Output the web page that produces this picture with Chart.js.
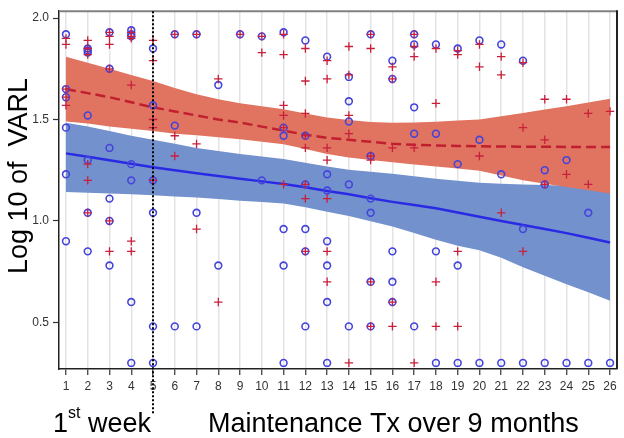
<!DOCTYPE html>
<html>

<head>
    <title>Log 10 of VARL by week</title>
    <script src="https://cdn.jsdelivr.net/npm/chart.js"></script>
    <style>
        body { margin: 0; background: #fff; }
        #wrap { position: relative; width: 624px; height: 438px; }
    </style>
</head>

<body>
    <div id="wrap"><canvas id="varlChart"></canvas></div>

    <script>
        const weeks = [1, 2, 3, 4, 5, 6, 7, 8, 9, 10, 11, 12, 13, 14, 15, 16, 17, 18, 19, 20, 21, 22, 23, 24, 25, 26];
        const yTicks = [0.5, 1.0, 1.5, 2.0];

        // observed values per week (circles = blue group, crosses = red group)
        const blueObs = [
            [1.92, 1.65, 1.61, 1.46, 1.23, 0.90],
            [1.85, 1.84, 1.83, 1.52, 1.30, 1.04, 0.85],
            [1.93, 1.75, 1.36, 1.11, 1.00, 0.78],
            [1.94, 1.92, 1.91, 1.28, 1.20, 0.60, 0.30],
            [1.85, 1.57, 1.20, 1.04, 0.48, 0.30],
            [1.92, 1.47, 0.48],
            [1.92, 1.04, 0.48],
            [1.67, 0.78],
            [1.92],
            [1.91, 1.20],
            [1.93, 1.46, 1.42, 0.96, 0.78, 0.30],
            [1.89, 1.42, 1.18, 0.96, 0.85, 0.48],
            [1.81, 1.23, 1.15, 0.90, 0.78, 0.60, 0.30],
            [1.71, 1.59, 1.49, 1.18, 0.48],
            [1.92, 1.32, 1.11, 1.04, 0.70, 0.48],
            [1.79, 1.70, 0.85, 0.70, 0.60],
            [1.92, 1.87, 1.56, 1.43, 0.48],
            [1.87, 1.43, 0.85, 0.30],
            [1.85, 1.28, 0.78, 0.30],
            [1.89, 1.40, 0.30],
            [1.87, 1.23, 0.30],
            [1.79, 0.96, 0.30],
            [1.25, 1.18, 0.30],
            [1.30, 0.30],
            [1.04, 0.30],
            [0.30]
        ];
        const redObs = [
            [1.90, 1.87, 1.65, 1.61, 1.57],
            [1.89, 1.85, 1.82, 1.28, 1.20, 1.04],
            [1.93, 1.91, 1.87, 1.75, 1.00, 0.85],
            [1.93, 1.91, 1.90, 1.67, 0.90, 0.85],
            [1.89, 1.79, 1.50, 1.46, 1.20],
            [1.92, 1.42, 1.32],
            [1.92, 1.38, 0.96],
            [1.70, 0.60],
            [1.92],
            [1.91, 1.83],
            [1.92, 1.82, 1.57, 1.52, 1.46, 1.18],
            [1.85, 1.69, 1.53, 1.42, 1.36, 1.18, 1.11, 0.85],
            [1.79, 1.70, 1.36, 1.30, 1.11, 0.85, 0.70],
            [1.86, 1.72, 1.52, 1.43, 0.30],
            [1.92, 1.85, 1.32, 1.30, 0.70, 0.48],
            [1.76, 1.70, 1.36, 0.60, 0.48],
            [1.92, 1.86, 1.81, 1.36, 0.30],
            [1.85, 1.58, 0.70, 0.48],
            [1.84, 1.82, 0.85, 0.48],
            [1.87, 1.76, 1.32],
            [1.81, 1.72, 1.04],
            [1.78, 1.46, 0.85],
            [1.60, 1.40, 1.18],
            [1.60, 1.23],
            [1.53, 1.18],
            [1.54]
        ];

        // fitted curves and confidence bands
        const redFit = [1.65, 1.63, 1.61, 1.585, 1.56, 1.54, 1.52, 1.50, 1.485, 1.465, 1.445, 1.425, 1.41,
            1.40, 1.39, 1.38, 1.375, 1.372, 1.37, 1.368, 1.367, 1.366, 1.366, 1.365, 1.365, 1.365];
        const redUpper = [1.81, 1.78, 1.75, 1.72, 1.69, 1.655, 1.625, 1.60, 1.58, 1.565, 1.55, 1.53, 1.51,
            1.497, 1.488, 1.484, 1.485, 1.489, 1.495, 1.50, 1.516, 1.532, 1.549, 1.565, 1.584, 1.602];
        const redLower = [1.49, 1.48, 1.465, 1.455, 1.443, 1.43, 1.422, 1.413, 1.403, 1.39, 1.378, 1.355, 1.33,
            1.313, 1.30, 1.289, 1.278, 1.268, 1.258, 1.248, 1.224, 1.20, 1.183, 1.167, 1.151, 1.135];
        const blueFit = [1.333, 1.316, 1.299, 1.282, 1.265, 1.25, 1.235, 1.222, 1.208, 1.195, 1.182, 1.166, 1.148,
            1.131, 1.112, 1.094, 1.078, 1.062, 1.042, 1.021, 1.0, 0.98, 0.96, 0.94, 0.917, 0.894];
        const blueUpper = [1.484, 1.465, 1.443, 1.42, 1.40, 1.38, 1.36, 1.345, 1.33, 1.318, 1.305, 1.287, 1.268,
            1.252, 1.242, 1.232, 1.22, 1.208, 1.198, 1.188, 1.183, 1.18, 1.177, 1.173, 1.17, 1.167];
        const blueLower = [1.143, 1.139, 1.135, 1.131, 1.127, 1.12, 1.115, 1.108, 1.10, 1.093, 1.086, 1.068, 1.045,
            1.024, 0.998, 0.972, 0.94, 0.907, 0.878, 0.855, 0.818, 0.772, 0.73, 0.688, 0.648, 0.607];

        const splitWeek = 5;

        function flatten(obs) {
            const pts = [];
            obs.forEach((vals, i) => vals.forEach(v => pts.push({ x: weeks[i], y: v })));
            return pts;
        }
        function curve(vals) {
            return vals.map((v, i) => ({ x: weeks[i], y: v }));
        }

        const FONT = "'Liberation Sans', Arial, sans-serif";
        Chart.defaults.font.family = FONT;

        const extras = {
            id: 'extras',
            afterDraw(chart) {
                const ctx = chart.ctx;
                const a = chart.chartArea;
                const xs = chart.scales.x;
                ctx.save();
                // top and right frame
                ctx.lineWidth = 2;
                ctx.strokeStyle = '#808080';
                ctx.beginPath();
                ctx.moveTo(a.left, a.top);
                ctx.lineTo(a.right, a.top);
                ctx.stroke();
                ctx.strokeStyle = '#222';
                ctx.beginPath();
                ctx.moveTo(a.right, a.top - 1);
                ctx.lineTo(a.right, a.bottom);
                ctx.stroke();

                // dotted divider at end of first week
                const dx = Math.round(xs.getPixelForValue(splitWeek));
                ctx.strokeStyle = '#000';
                ctx.lineWidth = 2;
                ctx.setLineDash([2, 2]);
                ctx.beginPath();
                ctx.moveTo(dx, a.top);
                ctx.lineTo(dx, 415);
                ctx.stroke();
                ctx.setLineDash([]);

                // y axis title
                ctx.fillStyle = '#000';
                ctx.font = '27px ' + FONT;
                ctx.save();
                ctx.translate(27, 176);
                ctx.rotate(-Math.PI / 2);
                ctx.textAlign = 'center';
                ctx.textBaseline = 'alphabetic';
                ctx.fillText('Log 10 of  VARL', 0, 0);
                ctx.restore();

                // bottom labels
                ctx.textAlign = 'left';
                ctx.textBaseline = 'alphabetic';
                ctx.font = '27px ' + FONT;
                ctx.fillText('1', 53, 432);
                let w = ctx.measureText('1').width;
                ctx.font = '16px ' + FONT;
                ctx.fillText('st', 53 + w, 418);
                w += ctx.measureText('st').width;
                ctx.font = '27px ' + FONT;
                ctx.fillText(' week', 53 + w, 432);
                ctx.fillText('Maintenance Tx over 9 months', 208, 432);
                ctx.restore();
            }
        };

        function createChart() {
            const ctx = document.getElementById('varlChart').getContext('2d');

            const datasets = [
                {
                    label: 'red obs', data: flatten(redObs), showLine: false, order: 1,
                    pointStyle: 'cross', pointRadius: 4.2, pointBorderWidth: 1.3,
                    pointBorderColor: '#c8203a', pointBackgroundColor: '#c8203a'
                },
                {
                    label: 'blue obs', data: flatten(blueObs), showLine: false, order: 2,
                    pointStyle: 'circle', pointRadius: 3.4, pointBorderWidth: 1.6,
                    pointBorderColor: '#4444dd', pointBackgroundColor: 'rgba(0,0,0,0)'
                },
                {
                    label: 'blue fit', data: curve(blueFit), order: 3, pointRadius: 0,
                    borderColor: '#2a2ae4', borderWidth: 2.5, fill: false
                },
                {
                    label: 'red fit', data: curve(redFit), order: 4, pointRadius: 0,
                    borderColor: '#c0202e', borderWidth: 2.5, borderDash: [10, 5], fill: false
                },
                {
                    label: 'red upper', data: curve(redUpper), order: 5, pointRadius: 0,
                    borderWidth: 0, borderColor: 'rgba(0,0,0,0)',
                    fill: { target: 5 }, backgroundColor: '#e17361'
                },
                {
                    label: 'red lower', data: curve(redLower), order: 6, pointRadius: 0,
                    borderWidth: 0, borderColor: 'rgba(0,0,0,0)', fill: false
                },
                {
                    label: 'blue upper', data: curve(blueUpper), order: 7, pointRadius: 0,
                    borderWidth: 0, borderColor: 'rgba(0,0,0,0)',
                    fill: { target: 7 }, backgroundColor: '#7391cd'
                },
                {
                    label: 'blue lower', data: curve(blueLower), order: 8, pointRadius: 0,
                    borderWidth: 0, borderColor: 'rgba(0,0,0,0)', fill: false
                }
            ];

            const options = {
                responsive: true,
                maintainAspectRatio: false,
                animation: false,
                layout: { padding: { left: 0, top: 7, right: 7, bottom: 0 } },
                plugins: {
                    legend: { display: false },
                    tooltip: { enabled: false }
                },
                scales: {
                    x: {
                        type: 'linear',
                        min: 0.68,
                        max: 26.32,
                        afterFit: s => { s.height = 69; },
                        afterBuildTicks: s => { s.ticks = weeks.map(v => ({ value: v })); },
                        ticks: {
                            stepSize: 1, includeBounds: false, autoSkip: false, maxRotation: 0,
                            padding: 4, color: '#333', font: { size: 12 }
                        },
                        grid: { color: '#e3e3e3', lineWidth: 1.5, tickColor: '#333', tickLength: 6, tickWidth: 1.2 },
                        border: { color: '#222', width: 1.5 }
                    },
                    y: {
                        type: 'linear',
                        min: 0.27,
                        max: 2.034,
                        afterFit: s => { s.width = 59; },
                        afterBuildTicks: s => { s.ticks = yTicks.map(v => ({ value: v })); },
                        ticks: {
                            padding: 4, color: '#333', font: { size: 12 },
                            callback: v => Number(v).toFixed(1)
                        },
                        grid: { drawOnChartArea: false, tickColor: '#333', tickLength: 6, tickWidth: 1.2 },
                        border: { color: '#222', width: 1.5 }
                    }
                }
            };

            new Chart(ctx, { type: 'line', data: { datasets }, options, plugins: [extras] });
        }

        createChart();
    </script>
</body>

</html>
